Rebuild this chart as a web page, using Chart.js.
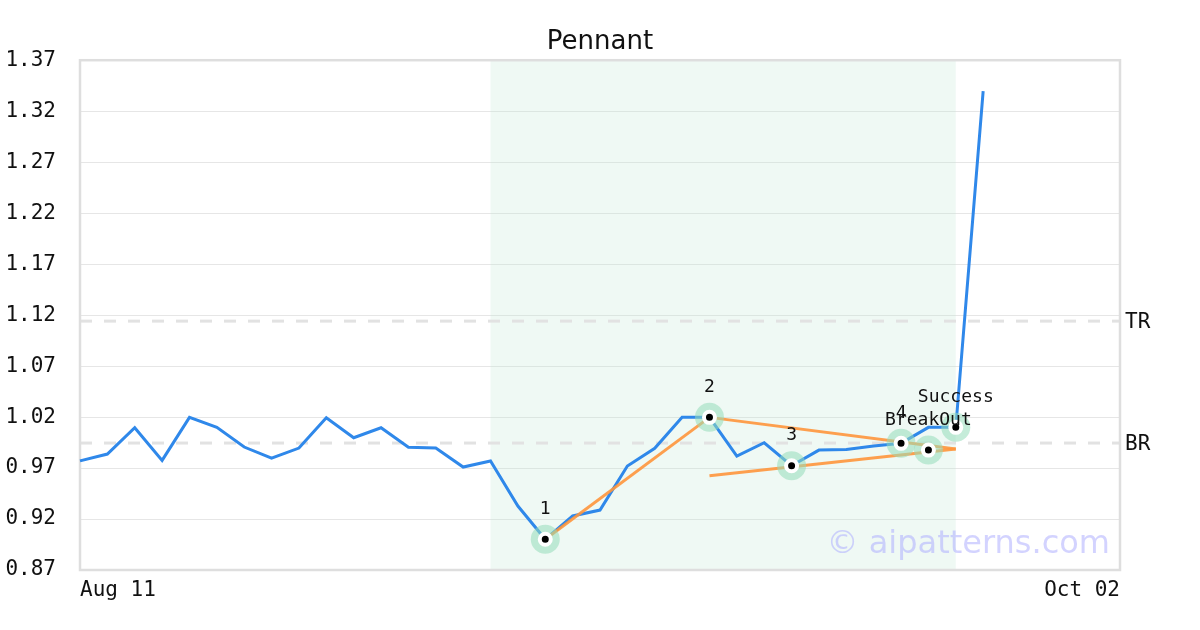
<!DOCTYPE html>
<html>
<head>
<meta charset="utf-8">
<script src="https://cdn.jsdelivr.net/npm/chart.js@4.4.1/dist/chart.umd.min.js"></script>
<style>
  html,body{margin:0;padding:0;background:#fff;}
  #wrap{width:1200px;height:630px;}
</style>
</head>
<body>
<div id="wrap"><canvas id="c" width="1200" height="630"></canvas></div>
<script>
// ---- Data ----
const dates = ["Aug 11","Aug 12","Aug 13","Aug 14","Aug 15","Aug 18","Aug 19","Aug 20","Aug 21","Aug 22",
  "Aug 25","Aug 26","Aug 27","Aug 28","Aug 29","Sep 01","Sep 02","Sep 03","Sep 04","Sep 05",
  "Sep 08","Sep 09","Sep 10","Sep 11","Sep 12","Sep 15","Sep 16","Sep 17","Sep 18","Sep 19",
  "Sep 22","Sep 23","Sep 24","Sep 25","Sep 26","Sep 29","Sep 30","Oct 01","Oct 02"];
const prices = [0.977,0.9837,1.0095,0.9775,1.0197,1.0099,0.9906,0.9798,0.9896,1.0193,
  0.9997,1.0095,0.9903,0.9896,0.971,0.9769,0.9327,0.9001,0.923,0.9288,
  0.972,0.9893,1.0197,1.0197,0.9818,0.9948,0.9723,0.9876,0.9883,0.9916,
  0.9942,1.0099,1.0099,1.3396];
const yTicks = [0.87,0.92,0.97,1.02,1.07,1.12,1.17,1.22,1.27,1.32,1.37];
const pivotIdx = [17,23,26,30];
const pivotLabels = ["1","2","3","4"];
const breakoutPt = {idx:31, val:0.9876, label:"BreakOut"};
const successPt = {idx:32, val:1.0099, label:"Success"};
const flagPole = [{idx:17,val:0.9001},{idx:23,val:1.0197}];
const upperTrend = [{idx:23,val:1.0197},{idx:32,val:0.9886}];
const lowerTrend = [{idx:23,val:0.9624},{idx:32,val:0.9886}];
const zoneRange = [15,32];
const levelTR = 1.1141;
const levelBR = 0.9945;
const titleText = "Pennant";
const watermark = "\u00A9 aipatterns.com";

// ---- Build ----
const toXY = arr => arr.map(p => ({x:dates[p.idx], y:p.val}));
const markerPts = pivotIdx.map(i => ({x:dates[i], y:prices[i]}))
  .concat([{x:dates[breakoutPt.idx],y:breakoutPt.val},{x:dates[successPt.idx],y:successPt.val}]);
const markerLabels = pivotLabels.concat([breakoutPt.label, successPt.label]);

const bgPlugin = {
  id:'bgPlugin',
  beforeDatasetsDraw(chart){
    const {ctx, chartArea:a, scales:{x,y}} = chart;
    ctx.save();
    const x0 = x.getPixelForValue(zoneRange[0]);
    const x1 = x.getPixelForValue(zoneRange[1]);
    ctx.fillStyle = 'rgba(190,232,212,0.25)';
    ctx.fillRect(x0, a.top, x1-x0, a.bottom-a.top);
    ctx.setLineDash([12,12]);
    ctx.lineWidth = 3;
    ctx.strokeStyle = '#e2e2e2';
    [levelTR, levelBR].forEach(v=>{
      const py = y.getPixelForValue(v);
      ctx.beginPath(); ctx.moveTo(a.left, py); ctx.lineTo(a.right, py); ctx.stroke();
    });
    ctx.setLineDash([]);
    ctx.lineWidth = 2.5;
    ctx.strokeStyle = '#dedede';
    ctx.strokeRect(a.left, a.top, a.right-a.left, a.bottom-a.top);
    ctx.restore();
  },
  afterDatasetsDraw(chart){
    const {ctx, chartArea:a, scales:{x,y}} = chart;
    ctx.save();
    ctx.font = '21px "DejaVu Sans Mono"';
    ctx.fillStyle = '#111';
    ctx.textAlign = 'left';
    ctx.textBaseline = 'middle';
    ctx.fillText('TR', a.right+5, y.getPixelForValue(levelTR)+1);
    ctx.fillText('BR', a.right+5, y.getPixelForValue(levelBR)+1);
    ctx.font = '18px "DejaVu Sans Mono"';
    ctx.textAlign = 'center';
    markerPts.forEach((p,i)=>{
      ctx.fillText(markerLabels[i], x.getPixelForValue(dates.indexOf(p.x)), y.getPixelForValue(p.y)-30);
    });
    ctx.font = '32px "DejaVu Sans"';
    ctx.fillStyle = 'rgba(175,175,255,0.55)';
    ctx.textAlign = 'right';
    ctx.textBaseline = 'alphabetic';
    ctx.fillText(watermark, a.right-10, a.bottom-17);
    ctx.restore();
  }
};

new Chart(document.getElementById('c'), {
  type:'line',
  data:{
    labels: dates,
    datasets:[
      {data: markerPts, pointRadius:5.5, pointBorderWidth:4,
       pointBackgroundColor:'#000', pointBorderColor:'#fff', showLine:false, order:0},
      {data: markerPts, pointRadius:14.5, pointBorderWidth:0,
       pointBackgroundColor:'rgba(150,220,186,0.55)', showLine:false, order:1},
      {data: toXY(flagPole), borderColor:'rgba(255,150,60,0.9)', borderWidth:3, pointRadius:0, order:2},
      {data: toXY(upperTrend), borderColor:'rgba(255,150,60,0.9)', borderWidth:3, pointRadius:0, order:2},
      {data: toXY(lowerTrend), borderColor:'rgba(255,150,60,0.9)', borderWidth:3, pointRadius:0, order:2},
      {data: prices, borderColor:'#2f88ea', borderWidth:3, pointRadius:0, tension:0, order:3}
    ]
  },
  options:{
    responsive:false,
    animation:false,
    layout:{padding:{left:0,right:0,top:0,bottom:0}},
    plugins:{
      legend:{display:false},
      tooltip:{enabled:false},
      title:{display:true, text:titleText, color:'#111',
        font:{family:'"DejaVu Sans"', size:26, weight:'normal'},
        padding:{top:27,bottom:2}}
    },
    scales:{
      x:{
        type:'category',
        offset:false,
        grid:{display:false},
        border:{display:false},
        ticks:{autoSkip:false, maxRotation:0, minRotation:0, align:'inner', padding:0, color:'#111',
          font:{family:'"DejaVu Sans Mono"', size:21},
          callback:function(v,i){ return (i===0||i===dates.length-1)? dates[i] : ''; }},
        afterFit(s){ s.height = 60; }
      },
      y:{
        min:0.87, max:1.37,
        grid:{color:'#e6e6e6', lineWidth:1, drawTicks:false},
        border:{display:false},
        afterBuildTicks(s){ s.ticks = yTicks.map(v=>({value:v})); },
        ticks:{padding:24, color:'#111', font:{family:'"DejaVu Sans Mono"', size:21},
          callback:v=>Number(v).toFixed(2)},
        afterFit(s){ s.width = 80; }
      },
      yR:{
        position:'right', display:true, min:0, max:1,
        grid:{display:false, drawTicks:false}, border:{display:false},
        ticks:{display:false},
        afterFit(s){ s.width = 80; }
      }
    }
  },
  plugins:[bgPlugin]
});
</script>
</body>
</html>
